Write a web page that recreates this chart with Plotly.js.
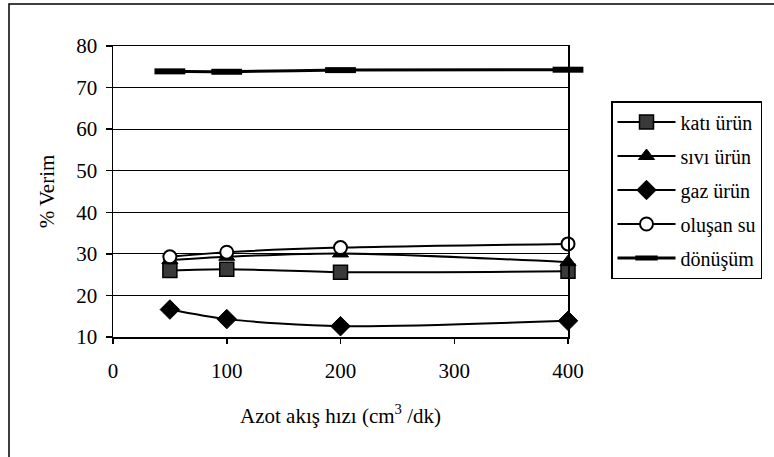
<!DOCTYPE html>
<html>
<head>
<meta charset="utf-8">
<script src="https://cdn.plot.ly/plotly-3.0.1.min.js"></script>
<style>
  html, body { margin: 0; padding: 0; background: #fff; }
  #chart { width: 774px; height: 457px; }
</style>
</head>
<body>
<div id="chart"></div>
<script>
// Data
const flowRates = [50, 100, 200, 400];           // Azot akış hızı (cm3/dk)
const katiUrun   = [26.0, 26.3, 25.6, 25.8];
const siviUrun   = [28.5, 29.3, 30.1, 28.0];
const gazUrun    = [16.6, 14.3, 12.6, 13.9];
const olusanSu   = [29.3, 30.4, 31.5, 32.4];
const donusum    = [73.9, 73.8, 74.2, 74.3];
const seriesNames = ['katı ürün', 'sıvı ürün', 'gaz ürün', 'oluşan su', 'dönüşüm'];
const yTickVals = [10, 20, 30, 40, 50, 60, 70, 80];
const xTickVals = [0, 100, 200, 300, 400];

const FONT = '"Liberation Serif", "Times New Roman", serif';

function trace(name, y, marker, lineWidth, group) {
  return {
    x: flowRates, y: y, name: name, type: 'scatter', mode: 'lines+markers',
    line: { color: '#000', width: lineWidth, shape: 'spline', smoothing: 0.8 },
    marker: marker, legendgroup: group, cliponaxis: false
  };
}

const data = [
  trace(seriesNames[0], katiUrun, { symbol: 'square', size: 14, color: '#3a3a3a', line: { color: '#000', width: 1.5 } }, 2, 'a'),
  trace(seriesNames[1], siviUrun, { symbol: 'triangle-up', size: 14, color: '#000', line: { color: '#000', width: 1 } }, 2, 'b'),
  trace(seriesNames[2], gazUrun,  { symbol: 'diamond', size: 15, color: '#000', line: { color: '#000', width: 1 } }, 2, 'c'),
  trace(seriesNames[3], olusanSu, { symbol: 'circle', size: 13, color: '#fff', line: { color: '#000', width: 2 } }, 2, 'd'),
  trace(seriesNames[4], donusum,  { symbol: 'line-ew', size: 22, color: '#000', line: { color: '#000', width: 6 } }, 3, 'e')
];

const layout = {
  width: 774, height: 457,
  margin: { l: 113, r: 206, t: 46, b: 120 },
  paper_bgcolor: '#fff', plot_bgcolor: '#fff',
  font: { family: FONT, color: '#000', size: 20 },
  showlegend: true,
  hovermode: false,
  xaxis: {
    range: [0, 400], tickvals: xTickVals, ticktext: xTickVals.map(String),
    showgrid: false, zeroline: false,
    showline: true, linecolor: '#000', linewidth: 1.5, mirror: true,
    ticks: 'outside', ticklen: 5, tickcolor: '#000', tickwidth: 1.5,
    ticklabelstandoff: 9,
    tickfont: { family: FONT, size: 21, color: '#000' },
    title: { text: 'Azot akış hızı (cm<sup>3</sup> /dk)', font: { family: FONT, size: 21, color: '#000' }, standoff: 26 }
  },
  yaxis: {
    range: [10, 80], tickvals: yTickVals, ticktext: yTickVals.map(String),
    showgrid: true, gridcolor: '#000', gridwidth: 1.2, zeroline: false,
    showline: true, linecolor: '#000', linewidth: 1.5, mirror: true,
    ticks: 'outside', ticklen: 6, tickcolor: '#000', tickwidth: 1.5,
    ticklabelstandoff: 4,
    tickfont: { family: FONT, size: 21, color: '#000' },
    title: { text: '% Verim', font: { family: FONT, size: 21, color: '#000' }, standoff: 16 }
  },
  legend: {
    x: (611 - 113) / 455, y: (337 - 101) / 291, xanchor: 'left', yanchor: 'top',
    bgcolor: '#fff', bordercolor: '#000', borderwidth: 1.5,
    font: { family: FONT, size: 20, color: '#000' },
    traceorder: 'grouped', tracegroupgap: 5, itemwidth: 58, itemsizing: 'trace'
  },
  shapes: [{
    type: 'rect', xref: 'paper', yref: 'paper',
    x0: (9 - 113) / 455, x1: (790 - 113) / 455,
    y0: (337 - 470) / 291, y1: (337 - 4) / 291,
    line: { color: '#000', width: 1.5 }, fillcolor: 'rgba(0,0,0,0)', layer: 'below'
  }]
};

Plotly.newPlot('chart', data, layout, { displayModeBar: false, staticPlot: true });
</script>
</body>
</html>
